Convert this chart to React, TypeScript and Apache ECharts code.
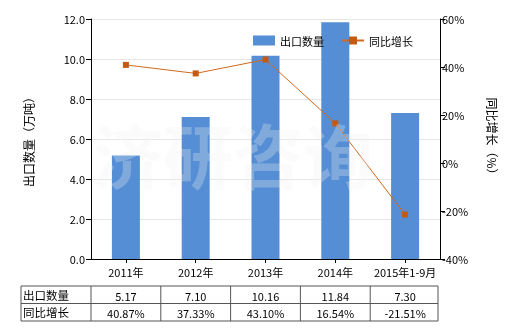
import React, { useEffect, useRef } from "react";
import * as echarts from "echarts";

const categories = ["2011年", "2012年", "2013年", "2014年", "2015年1-9月"];
const exportQty = [5.17, 7.1, 10.16, 11.84, 7.3];
const yoyGrowth = [40.87, 37.33, 43.1, 16.54, -21.51];
const qtyLabels = ["5.17", "7.10", "10.16", "11.84", "7.30"];
const growthLabels = ["40.87%", "37.33%", "43.10%", "16.54%", "-21.51%"];
const seriesNames = ["出口数量", "同比增长"];

const FONT = "'Noto Sans CJK SC', 'Noto Sans', sans-serif";

export default function App() {
  const ref = useRef<HTMLDivElement>(null);
  useEffect(() => {
    document.body.style.margin = "0";
    const chart = echarts.init(ref.current!, undefined, { renderer: "svg" });
    const gridLeft = 91;
    const gridRight = 440;
    const colW = (gridRight - gridLeft) / categories.length;
    const tableLeft = 21;
    const rowTop = [286, 303.5];
    const rowH = 17.5;
    const border = "#555";
    const graphics: any[] = [];
    // watermark
    graphics.push({
      type: "text",
      left: 93,
      top: 118,
      silent: true,
      z: 100,
      style: {
        text: "济研咨询",
        font: "bold 70px 'Noto Sans CJK SC'",
        fill: "rgba(242,242,242,0.28)",
        letterSpacing: 17,
      },
    });
    // table borders
    const tableRight = gridRight - 2;
    const lines: number[][] = [];
    [rowTop[0], rowTop[1], rowTop[1] + rowH].forEach((y) =>
      lines.push([tableLeft, y, tableRight, y])
    );
    lines.push([tableLeft, rowTop[0], tableLeft, rowTop[1] + rowH]);
    for (let i = 0; i <= categories.length; i++) {
      const x = Math.min(gridLeft + i * colW, tableRight);
      lines.push([x, rowTop[0], x, rowTop[1] + rowH]);
    }
    lines.forEach(([x1, y1, x2, y2]) =>
      graphics.push({
        type: "line",
        shape: { x1, y1, x2, y2 },
        style: { stroke: border, lineWidth: 1 },
      })
    );
    const rows = [qtyLabels, growthLabels];
    rows.forEach((row, r) => {
      graphics.push({
        type: "text",
        x: tableLeft + 2,
        y: rowTop[r] + rowH / 2,
        style: {
          text: seriesNames[r],
          font: `11.5px ${FONT}`,
          fill: "#000",
          verticalAlign: "middle",
          align: "left",
        },
      });
      row.forEach((t, i) => {
        graphics.push({
          type: "text",
          x: gridLeft + (i + 0.5) * colW,
          y: rowTop[r] + rowH / 2 + 1,
          style: {
            text: t,
            font: `11px ${FONT}`,
            fill: "#000",
            verticalAlign: "middle",
            align: "center",
          },
        });
      });
    });

    chart.setOption({
      animation: false,
      textStyle: { fontFamily: FONT },
      grid: { left: gridLeft, right: 520 - gridRight, top: 19, bottom: 71 },
      legend: {
        top: 30,
        left: 248,
        itemGap: 17,
        itemWidth: 22,
        itemHeight: 10,
        textStyle: { fontSize: 11, color: "#000", fontFamily: FONT },
        data: [
          { name: seriesNames[0], icon: "rect" },
          { name: seriesNames[1] },
        ],
      },
      xAxis: {
        type: "category",
        data: categories,
        axisLine: { lineStyle: { color: "#000" } },
        axisTick: { show: true, alignWithLabel: true, length: 4, lineStyle: { color: "#000" } },
        axisLabel: { color: "#000", fontSize: 11, margin: 7, interval: 0, fontFamily: FONT },
      },
      yAxis: [
        {
          type: "value",
          min: 0,
          max: 12,
          interval: 2,
          name: "出口数量（万吨）",
          nameLocation: "middle",
          nameGap: 57,
          nameTextStyle: { fontSize: 12, color: "#000", fontFamily: FONT },
          axisLine: { show: true, lineStyle: { color: "#000" } },
          axisTick: { show: true, length: 5, lineStyle: { color: "#000" } },
          axisLabel: { color: "#000", fontSize: 11, formatter: (v: number) => v.toFixed(1), margin: 6 },
          splitLine: { lineStyle: { color: "#e6e6e6" } },
        },
        {
          type: "value",
          min: -40,
          max: 60,
          interval: 20,
          name: "同比增长（%）",
          nameLocation: "middle",
          nameRotate: -90,
          nameGap: 46,
          nameTextStyle: { fontSize: 12, color: "#000", fontFamily: FONT },
          axisLine: { show: true, lineStyle: { color: "#000" } },
          axisTick: { show: true, length: 5, lineStyle: { color: "#000" } },
          axisLabel: { color: "#000", fontSize: 11, formatter: "{value}%", margin: 2 },
          splitLine: { show: false },
        },
      ],
      series: [
        {
          name: seriesNames[0],
          type: "bar",
          data: exportQty,
          barWidth: 28,
          itemStyle: { color: "#558ed5" },
        },
        {
          name: seriesNames[1],
          type: "line",
          yAxisIndex: 1,
          data: yoyGrowth,
          symbol: "rect",
          symbolSize: 6,
          lineStyle: { color: "#d2691e", width: 1 },
          itemStyle: { color: "#c55a11" },
        },
      ],
      graphic: graphics,
    });
    return () => chart.dispose();
  }, []);
  return <div ref={ref} style={{ position: "fixed", left: 0, top: 0, width: 520, height: 330 }} />;
}
